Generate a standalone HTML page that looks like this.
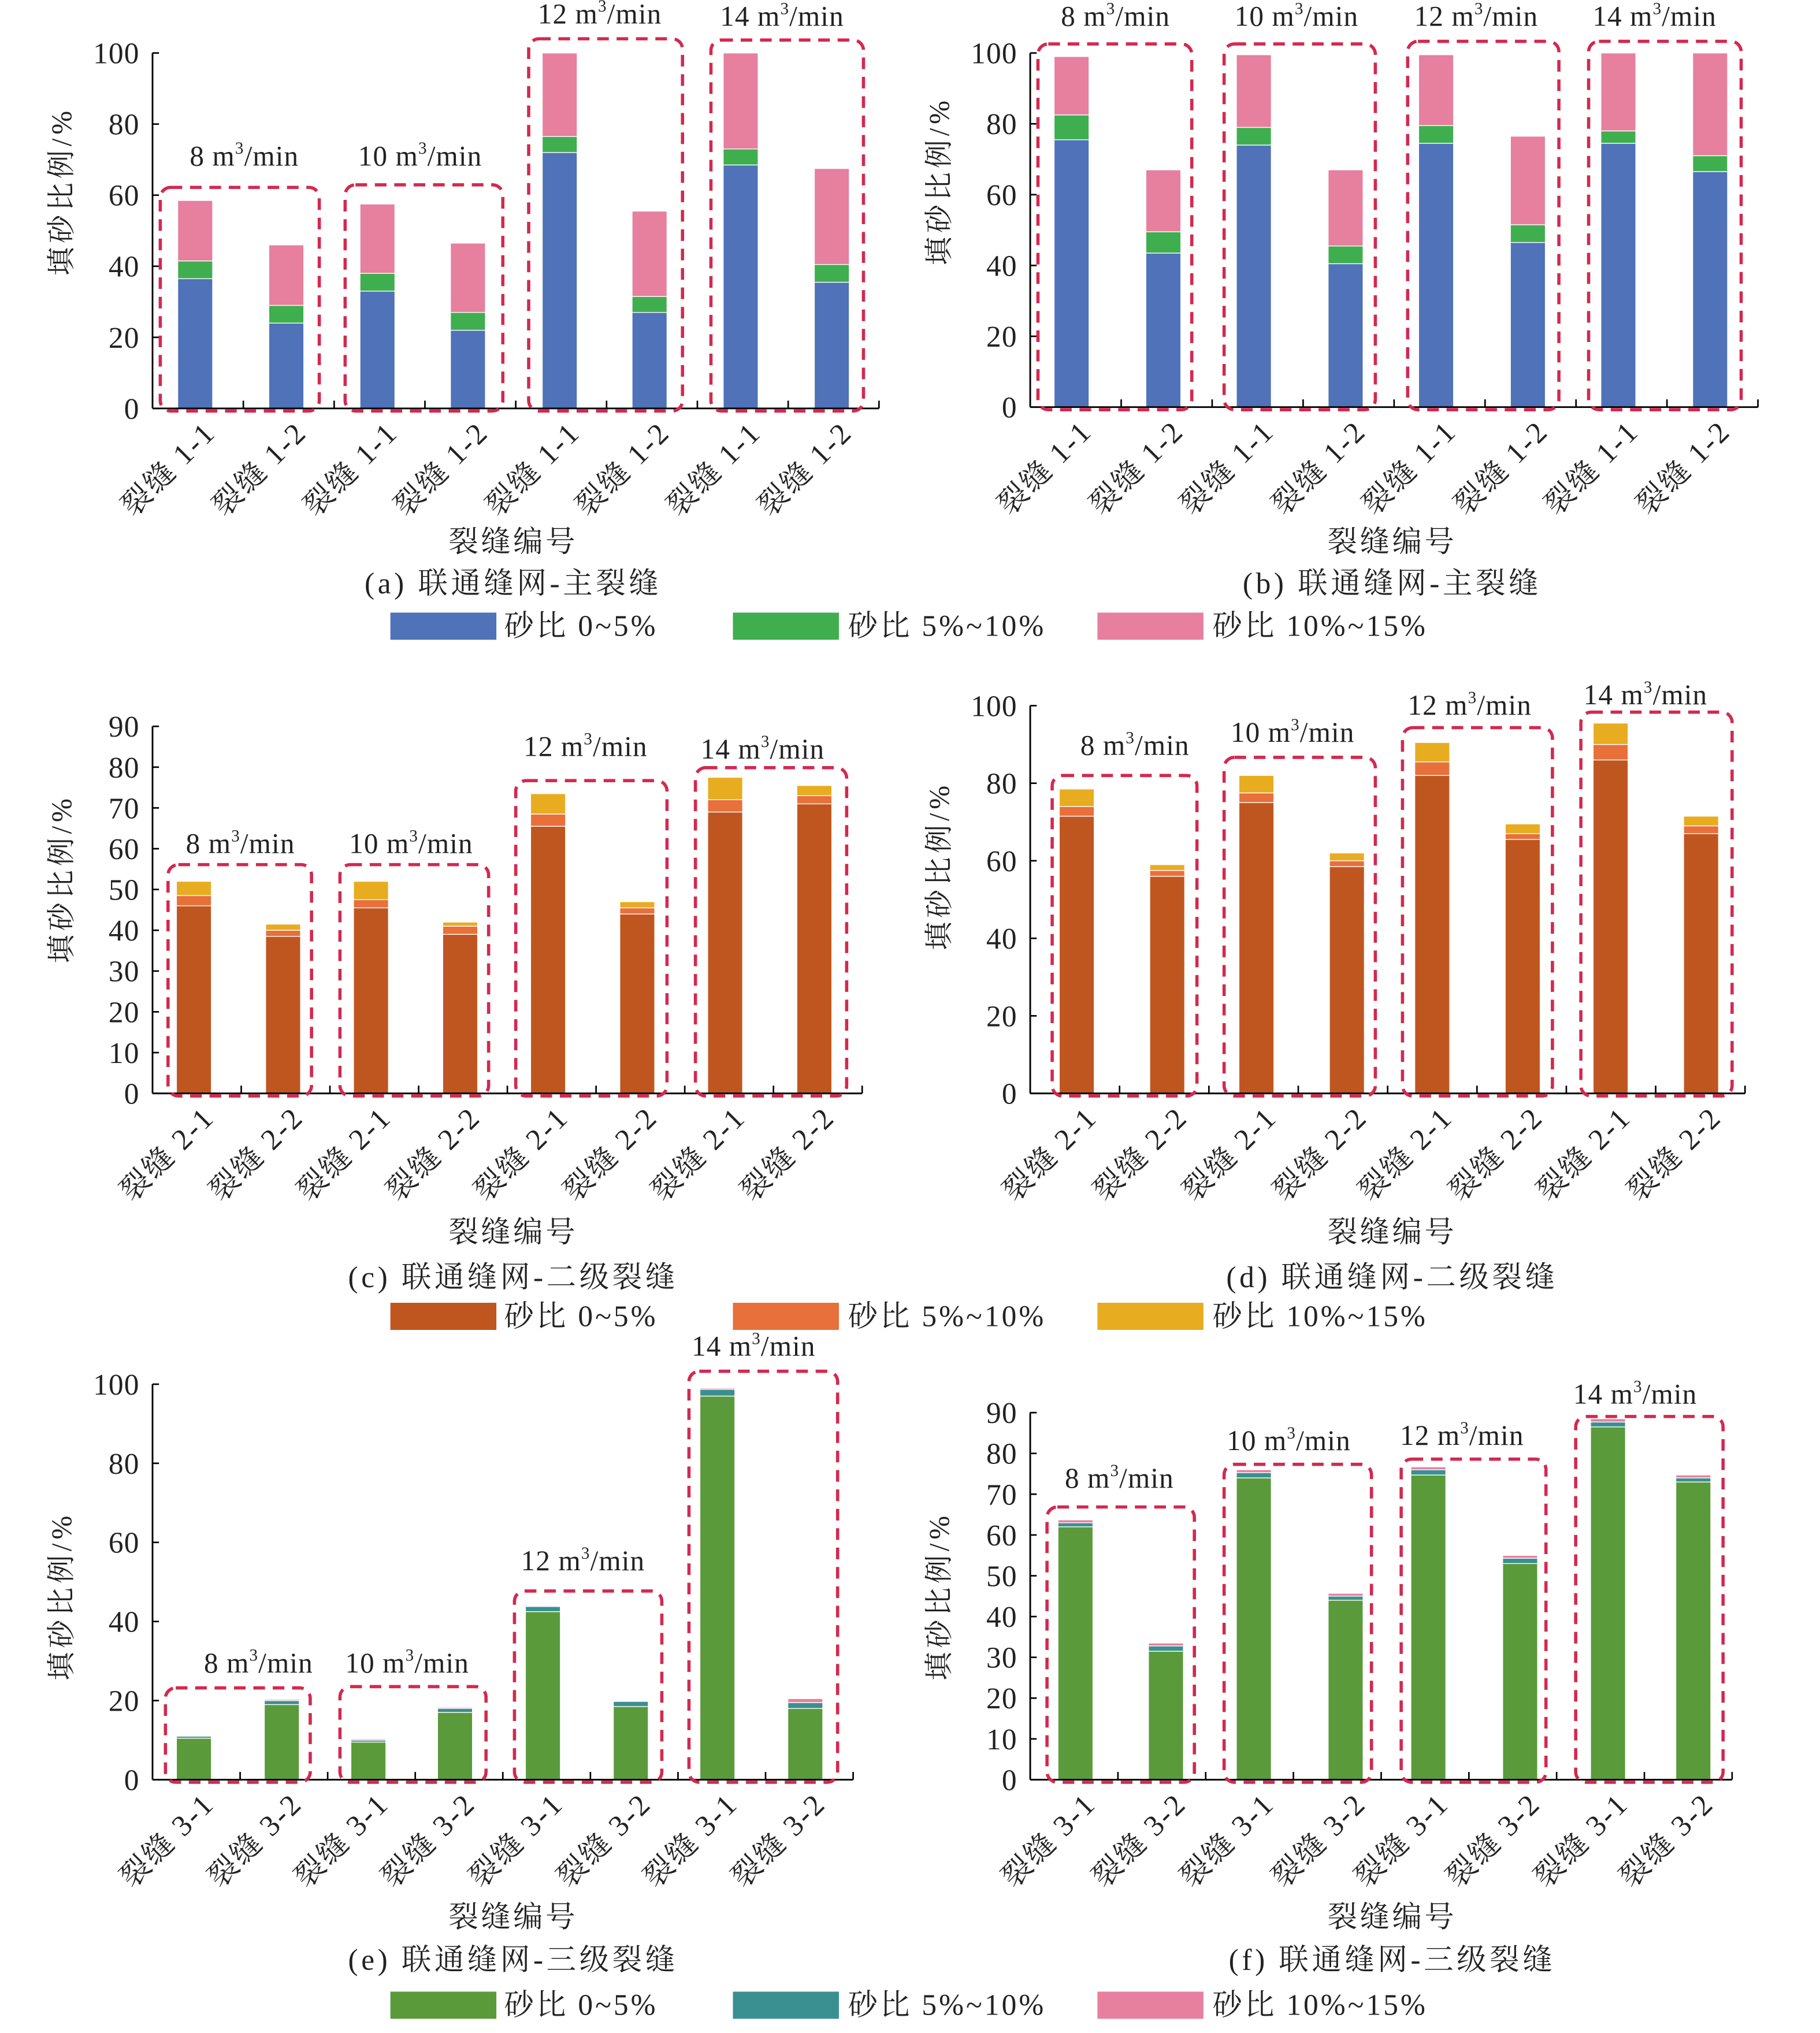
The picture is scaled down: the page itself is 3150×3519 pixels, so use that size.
<!DOCTYPE html>
<html><head><meta charset="utf-8"><style>
html,body{margin:0;padding:0;background:#fff}
svg{display:block}
text{font-family:"Liberation Serif","Noto Serif CJK SC",serif;fill:#222}
</style></head><body>
<svg id="s" width="3150" height="3519" viewBox="0 0 1408 1573" preserveAspectRatio="none" xmlns="http://www.w3.org/2000/svg"></svg>
<script>
const s=document.getElementById('s');let h='';
const P=[
{x0:118,x1:680,y0:316,yt:41,max:100,step:20,cx:[151,221.5,292,362,433,502.5,573,643.5],
 col:['#4f72b8','#3fae4f','#e77f9f'],name:'1',
 d:[[36.5,41.5,58.5],[24,29,46],[33,38,57.5],[22,27,46.5],[72,76.5,100],[27,31.5,55.5],[68.5,73,100],[35.5,40.5,67.5]],
 box:[[124,247,145],[267,389,143],[409,528,30],[550,668,31]],lab:[[189,128],[325,128],[464,18],[605,20]],
 cap:'(a) 联通缝网-主裂缝',yl:[48,148]},
{x0:797,x1:1360,y0:315,yt:41,max:100,step:20,cx:[829,900,970,1041,1111,1182,1252,1323],
 col:['#4f72b8','#3fae4f','#e77f9f'],name:'1',
 d:[[75.5,82.5,99],[43.5,49.5,67],[74,79,99.5],[40.5,45.5,67],[74.5,79.5,99.5],[46.5,51.5,76.5],[74.5,78,100],[66.5,71,100]],
 box:[[803,922,34],[947,1064,34],[1089,1206,32],[1229,1347,32]],lab:[[863,20],[1003,20],[1142,20],[1280,20]],
 cap:'(b) 联通缝网-主裂缝',yl:[727,140]},
{x0:118,x1:667,y0:846,yt:562,max:90,step:10,cx:[150,219,287,356,424,493,561,630],
 col:['#c0561f','#e8703a','#e8ac20'],name:'2',
 d:[[46,48.5,52],[38.5,40,41.5],[45.5,47.5,52],[39,41,42],[65.5,68.5,73.5],[44,45.5,47],[69,72,77.5],[71,73,75.5]],
 box:[[130,241,669],[263,378,669],[399,516,604],[538,655,594]],lab:[[186,660],[318,660],[453,585],[590,587]],
 cap:'(c) 联通缝网-二级裂缝',yl:[48,680]},
{x0:797,x1:1350,y0:846,yt:546,max:100,step:20,cx:[833,903,972,1042,1108,1178,1246,1316],
 col:['#c0561f','#e8703a','#e8ac20'],name:'2',
 d:[[71.5,74,78.5],[56,57.5,59],[75,77.5,82],[58.5,60,62],[82,85.5,90.5],[65.5,67,69.5],[86,90,95.5],[67,69,71.5]],
 box:[[814,926,600],[947,1064,586],[1085,1201,563],[1223,1340,551]],lab:[[878,584],[1000,574],[1137,553],[1273,545]],
 cap:'(d) 联通缝网-二级裂缝',yl:[727,670]},
{x0:118,x1:660,y0:1377,yt:1071,max:100,step:20,cx:[150,218,285,352,420,488,555,623],
 col:['#5a9a3a','#3a9090','#e77f9f'],name:'3',
 d:[[10.5,11,11.2],[19,20,20.3],[9.5,10,10.3],[17,18,18.3],[42.5,43.8,44],[18.5,19.8,20],[97,98.7,99],[18,19.5,20.5]],
 box:[[128,240,1306],[263,376,1305],[398,512,1231],[533,648,1061]],lab:[[200,1294],[315,1294],[451,1215],[583,1049]],
 cap:'(e) 联通缝网-三级裂缝',yl:[48,1235]},
{x0:797,x1:1340,y0:1377,yt:1093,max:90,step:10,cx:[832,902,970,1041,1105,1176,1244,1310],
 col:['#5a9a3a','#3a9090','#e77f9f'],name:'3',
 d:[[62,63,63.7],[31.5,32.8,33.5],[74,75.3,76],[44,45,45.7],[74.7,76,76.7],[53,54.3,55],[86.5,87.7,88.5],[73,74,74.7]],
 box:[[810,924,1166],[947,1061,1133],[1084,1196,1129],[1219,1333,1096]],lab:[[866,1151],[997,1122],[1131,1118],[1265,1086]],
 cap:'(f) 联通缝网-三级裂缝',yl:[727,1235]}
];
const rates=['8','10','12','14'];
P.forEach(p=>{
 const k=(p.y0-p.yt)/p.max, Y=v=>p.y0-v*k;
 p.d.forEach((d,i)=>{let prev=0;d.forEach((v,j)=>{const y=Y(v),hh=Y(prev)-y;
  h+=`<rect x="${p.cx[i]-13.5}" y="${y}" width="27" height="${hh}" fill="${p.col[j]}" stroke="#fff" stroke-width="0.6"/>`;prev=v;});});
 h+=`<line x1="${p.x0}" y1="${p.yt}" x2="${p.x0}" y2="${p.y0}" stroke="#000" stroke-width="1.3"/>`;
 h+=`<line x1="${p.x0}" y1="${p.y0}" x2="${p.x1}" y2="${p.y0}" stroke="#000" stroke-width="1.3"/>`;
 for(let v=0;v<=p.max;v+=p.step){const y=Y(v);
  h+=`<line x1="${p.x0}" y1="${y}" x2="${p.x0+5}" y2="${y}" stroke="#000" stroke-width="1.2"/>`;
  h+=`<text x="${p.x0-10}" y="${y+8}" font-size="23" text-anchor="end" letter-spacing="0.5">${v}</text>`;}
 const w=(p.x1-p.x0)/8;
 for(let i=1;i<=8;i++){const x=p.x0+w*i;h+=`<line x1="${x}" y1="${p.y0}" x2="${x}" y2="${p.y0-6}" stroke="#000" stroke-width="1.2"/>`;}
 p.cx.forEach((c,i)=>{const lx=c+17,ly=p.y0+20;
  h+=`<text x="${lx}" y="${ly}" font-size="23" text-anchor="end" letter-spacing="1.5" transform="rotate(-45 ${lx} ${ly})">裂缝 ${p.name}-${i%2+1}</text>`;});
 p.box.forEach((b,i)=>{h+=`<rect x="${b[0]}" y="${b[2]}" width="${b[1]-b[0]}" height="${p.y0+2-b[2]}" rx="8" fill="none" stroke="#d3294f" stroke-width="2.5" stroke-dasharray="9,6"/>`;
  const l=p.lab[i];h+=`<text x="${l[0]}" y="${l[1]}" font-size="22" text-anchor="middle" letter-spacing="0.5">${rates[i]} m<tspan font-size="13" dy="-9">3</tspan><tspan dy="9">/min</tspan></text>`;});
 h+=`<text x="${p.yl[0]}" y="${p.yl[1]}" font-size="22" text-anchor="middle" letter-spacing="3" transform="rotate(-90 ${p.yl[0]} ${p.yl[1]})" dy="7">填砂比例/%</text>`;
});
[[397,427,459],[1077,427,459],[397,961,996],[1077,961,996],[397,1491,1524],[1077,1491,1524]].forEach((t,i)=>{
 h+=`<text x="${t[0]}" y="${t[1]}" font-size="23" text-anchor="middle" letter-spacing="2">裂缝编号</text>`;
 h+=`<text x="${t[0]}" y="${t[2]}" font-size="23" text-anchor="middle" letter-spacing="2.5">${P[i].cap}</text>`;});
[[484,0],[1018,2],[1551,4]].forEach(([y,pi])=>{const c=P[pi].col;const labs=['砂比 0~5%','砂比 5%~10%','砂比 10%~15%'];
 [[302,390],[567,656],[849,938]].forEach((r,j)=>{h+=`<rect x="${r[0]}" y="${y-10}" width="82" height="21" fill="${c[j]}"/>`;
  h+=`<text x="${r[1]}" y="${y+8}" font-size="23" letter-spacing="1.8">${labs[j]}</text>`;});});
s.innerHTML=h;
</script>
</body></html>
